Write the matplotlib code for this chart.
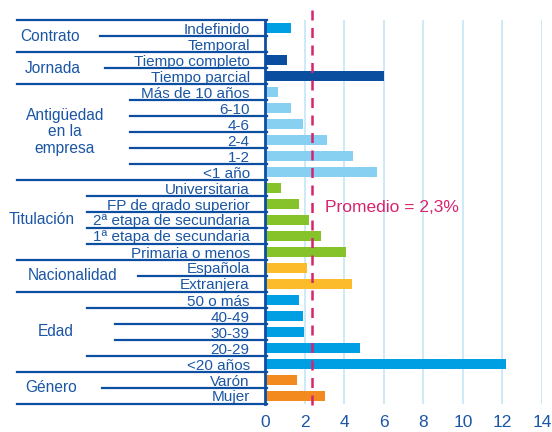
import matplotlib.pyplot as plt

plt.rcParams['font.family'] = ['Liberation Sans', 'DejaVu Sans']

cats = ['Indefinido', 'Temporal', 'Tiempo completo', 'Tiempo parcial',
        'Más de 10 años', '6-10', '4-6', '2-4', '1-2', '<1 año',
        'Universitaria', 'FP de grado superior', '2ª etapa de secundaria',
        '1ª etapa de secundaria', 'Primaria o menos',
        'Española', 'Extranjera',
        '50 o más', '40-49', '30-39', '20-29', '<20 años',
        'Varón', 'Mujer']
vals = [1.33, 0, 1.12, 6.0,
        0.66, 1.32, 1.93, 3.14, 4.46, 5.68,
        0.81, 1.72, 2.23, 2.84, 4.1,
        2.13, 4.41,
        1.74, 1.93, 1.98, 4.82, 12.2,
        1.62, 3.04]
groups = ['Contrato', 'Jornada', 'Antigüedad\nen la\nempresa', 'Titulación',
          'Nacionalidad', 'Edad', 'Género']
group_sizes = [2, 2, 6, 5, 2, 5, 2]
group_colors = ['#009fe3', '#0a4f9f', '#88d0f2', '#86c32a', '#fbbb2b', '#009fe3', '#f28a1f']
group_label_x = [50, 53, 65, 42, 73, 56, 51]      # pixel centres of group labels
inner_line_x = [100, 105, 130, 87, 138, None, 102]  # pixel start of inner separators
edad_lines_x = [87, 115, 115, 87]
promedio = 2.4

line_c = '#0b4ea2'
text_c = '#1b56a5'
mean_c = '#d6246e'

fig = plt.figure(figsize=(5.52, 4.32), dpi=100)
ax = fig.add_axes([265 / 552, 28 / 432, 277 / 552, 384 / 432])

colors = []
for c, n in zip(group_colors, group_sizes):
    colors += [c] * n

y = list(range(len(cats)))
ax.barh(y, vals, height=0.67, color=colors, zorder=3)
ax.set_ylim(len(cats) - 0.5, -0.5)
ax.set_xlim(0, 14)
ax.set_xticks(range(0, 15, 2))
ax.grid(axis='x', color='#c6e6f6', linewidth=1.2, zorder=0)
ax.set_yticks(y)
ax.set_yticklabels(cats, fontsize=11, color=text_c)
ax.tick_params(axis='y', length=0, pad=11)
ax.tick_params(axis='x', length=0, pad=8, labelsize=12.5, labelcolor=text_c)
for s in ['top', 'right', 'bottom']:
    ax.spines[s].set_visible(False)
ax.spines['left'].set_color(line_c)
ax.spines['left'].set_linewidth(2)
ax.spines['left'].set_zorder(5)

# separator lines on the left
ytr = ax.get_yaxis_transform()
def px(p):
    return (p - 265) / 277

def hline(yv, xstart):
    ax.plot([px(xstart), px(267)], [yv, yv], color=line_c, lw=1.6,
            transform=ytr, clip_on=False, zorder=4)

start = 0
for gi, n in enumerate(group_sizes):
    hline(start - 0.5, 17)
    for k in range(1, n):
        xs = edad_lines_x[k - 1] if groups[gi] == 'Edad' else inner_line_x[gi]
        hline(start + k - 0.5, xs)
    ax.text(px(group_label_x[gi]), start + n / 2 - 0.5, groups[gi], transform=ytr,
            ha='center', va='center', fontsize=11.2, color=text_c,
            linespacing=1.12)
    start += n
hline(start - 0.5, 17)

ax.plot([promedio, promedio], [-1.12, 23.95], color=mean_c, lw=1.8,
        linestyle=(0, (4, 3)), clip_on=False, zorder=6)
ax.text(3.05, 11.2, 'Promedio = 2,3%', color=mean_c, fontsize=12.5,
        va='center', ha='left')

fig.savefig('out.png', dpi=100)
